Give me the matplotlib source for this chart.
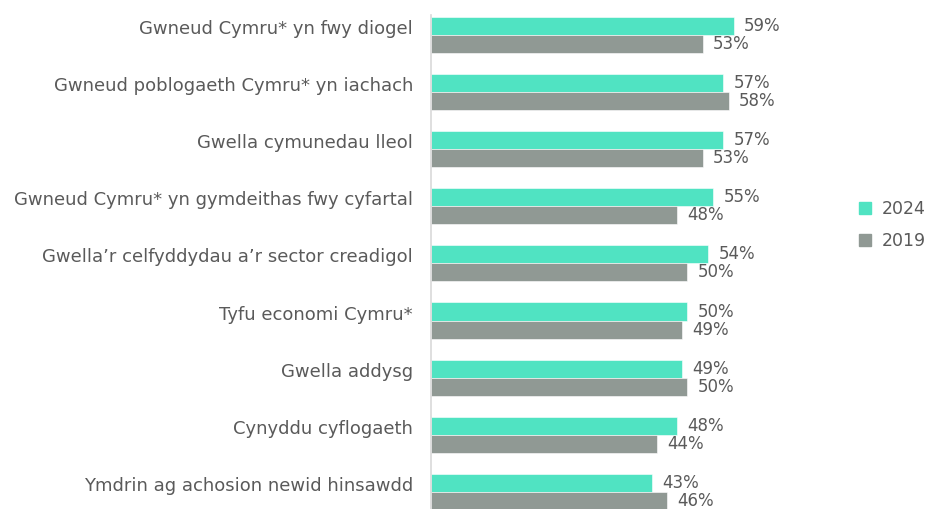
import numpy as np
import matplotlib.pyplot as plt
from matplotlib.patches import Patch

plt.rcParams['font.family'] = ['DejaVu Sans']

# -----------------------------
# Données
# -----------------------------
categories = [
    "Gwneud Cymru* yn fwy diogel",
    "Gwneud poblogaeth Cymru* yn iachach",
    "Gwella cymunedau lleol",
    "Gwneud Cymru* yn gymdeithas fwy cyfartal",
    "Gwella\u2019r celfyddydau a\u2019r sector creadigol",
    "Tyfu economi Cymru*",
    "Gwella addysg",
    "Cynyddu cyflogaeth",
    "Ymdrin ag achosion newid hinsawdd",
]
vals_2024 = [59, 57, 57, 55, 54, 50, 49, 48, 43]
vals_2019 = [53, 58, 53, 48, 50, 49, 50, 44, 46]
series = ["2024", "2019"]

col_2024 = "#50E3C2"
col_2019 = "#909994"
txt = "#5a5a5a"

# -----------------------------
# Tracé
# -----------------------------
fig = plt.figure(figsize=(9.28, 5.09), dpi=100)
W, H = 928, 509
px_per_pct = 5.13
x0 = 431
ax = fig.add_axes([x0 / W, 0, 70 * px_per_pct / W, (509 - 15) / H])

y = np.arange(len(categories))
h = 0.316
ax.barh(y - h / 2, vals_2024, height=h, color=col_2024, edgecolor="white", linewidth=0.4)
ax.barh(y + h / 2, vals_2019, height=h, color=col_2019, edgecolor="white", linewidth=0.4)

for i in range(len(categories)):
    ax.text(vals_2024[i] + 2.0, y[i] - h / 2, f"{vals_2024[i]}%", va="center", ha="left",
            fontsize=12, color=txt, clip_on=False)
    ax.text(vals_2019[i] + 2.0, y[i] + h / 2, f"{vals_2019[i]}%", va="center", ha="left",
            fontsize=12, color=txt, clip_on=False)

ax.set_xlim(0, 70)
ax.set_ylim(8.30, -0.35)
# étiquettes un peu au-dessus du centre du groupe (comme Excel)
ax.set_yticks(y - 0.14)
ax.set_yticklabels(categories, fontsize=13, color=txt)
ax.tick_params(axis="y", length=0, pad=13)
ax.set_xticks([])
for s in ["top", "right", "bottom"]:
    ax.spines[s].set_visible(False)
ax.spines["left"].set_color("#d9d9d9")
ax.spines["left"].set_linewidth(1.2)

handles = [Patch(color=col_2024), Patch(color=col_2019)]
fig.legend(handles, series, loc="center left", bbox_to_anchor=(859 / W, 1 - 225 / H),
           frameon=False, fontsize=12.5, labelcolor=txt, handlelength=0.7, handleheight=0.7,
           handletextpad=0.6, labelspacing=0.8, borderaxespad=0, borderpad=0)

fig.savefig("out.png", dpi=100)
